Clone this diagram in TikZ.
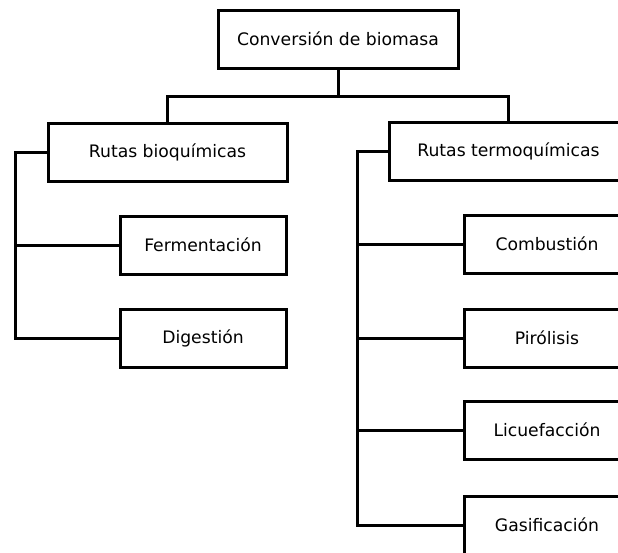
\documentclass[tikz,border=0pt]{standalone}
\usepackage{fontspec}
\setmainfont{DejaVu Sans}
\begin{document}
\begin{tikzpicture}[x=1pt,y=-1pt,
  box/.style={draw,line width=3pt,fill=white,inner sep=0pt,
    minimum width=#1,minimum height=58pt,
    font=\fontsize{17.2}{20}\selectfont},
  box/.default=166pt,
  link/.style={line width=3pt}]
\useasboundingbox (0,0) rectangle (618,552);
\clip (0,0) rectangle (618,552);
\fill[white] (0,0) rectangle (618,552);

% root and the two families of conversion routes
\node[box=240pt] (top)   at (338,39)    {Conversión de biomasa};
\node[box=239pt] (bio)   at (167.5,152.5) {Rutas bioquímicas};
\node[box=239pt] (termo) at (508.5,151.5) {Rutas termoquímicas};

% biochemical processes
\node[box] (ferm) at (203,245) {Fermentación};
\node[box] (dig)  at (203,338) {Digestión};

% thermochemical processes
\node[box] (comb) at (547,244) {Combustión};
\node[box] (piro) at (547,338) {Pirólisis};
\node[box] (licu) at (547,430) {Licuefacción};
\node[box] (gasi) at (547,525) {Gasificación};

% connectors
\coordinate (hub)    at (338,96);
\coordinate (lspine) at (15,338);
\coordinate (rspine) at (357,525);

\draw[link] (top.south) -- (hub);
\draw[link] (bio.north) |- (hub) -| (termo.north);

\draw[link] (bio.west) -| (lspine) -- (dig.west);
\draw[link] (ferm.west) -- (ferm.west -| lspine);

\draw[link] (termo.west) -| (rspine) -- (gasi.west);
\draw[link] (comb.west) -- (comb.west -| rspine);
\draw[link] (piro.west) -- (piro.west -| rspine);
\draw[link] (licu.west) -- (licu.west -| rspine);
\end{tikzpicture}
\end{document}
